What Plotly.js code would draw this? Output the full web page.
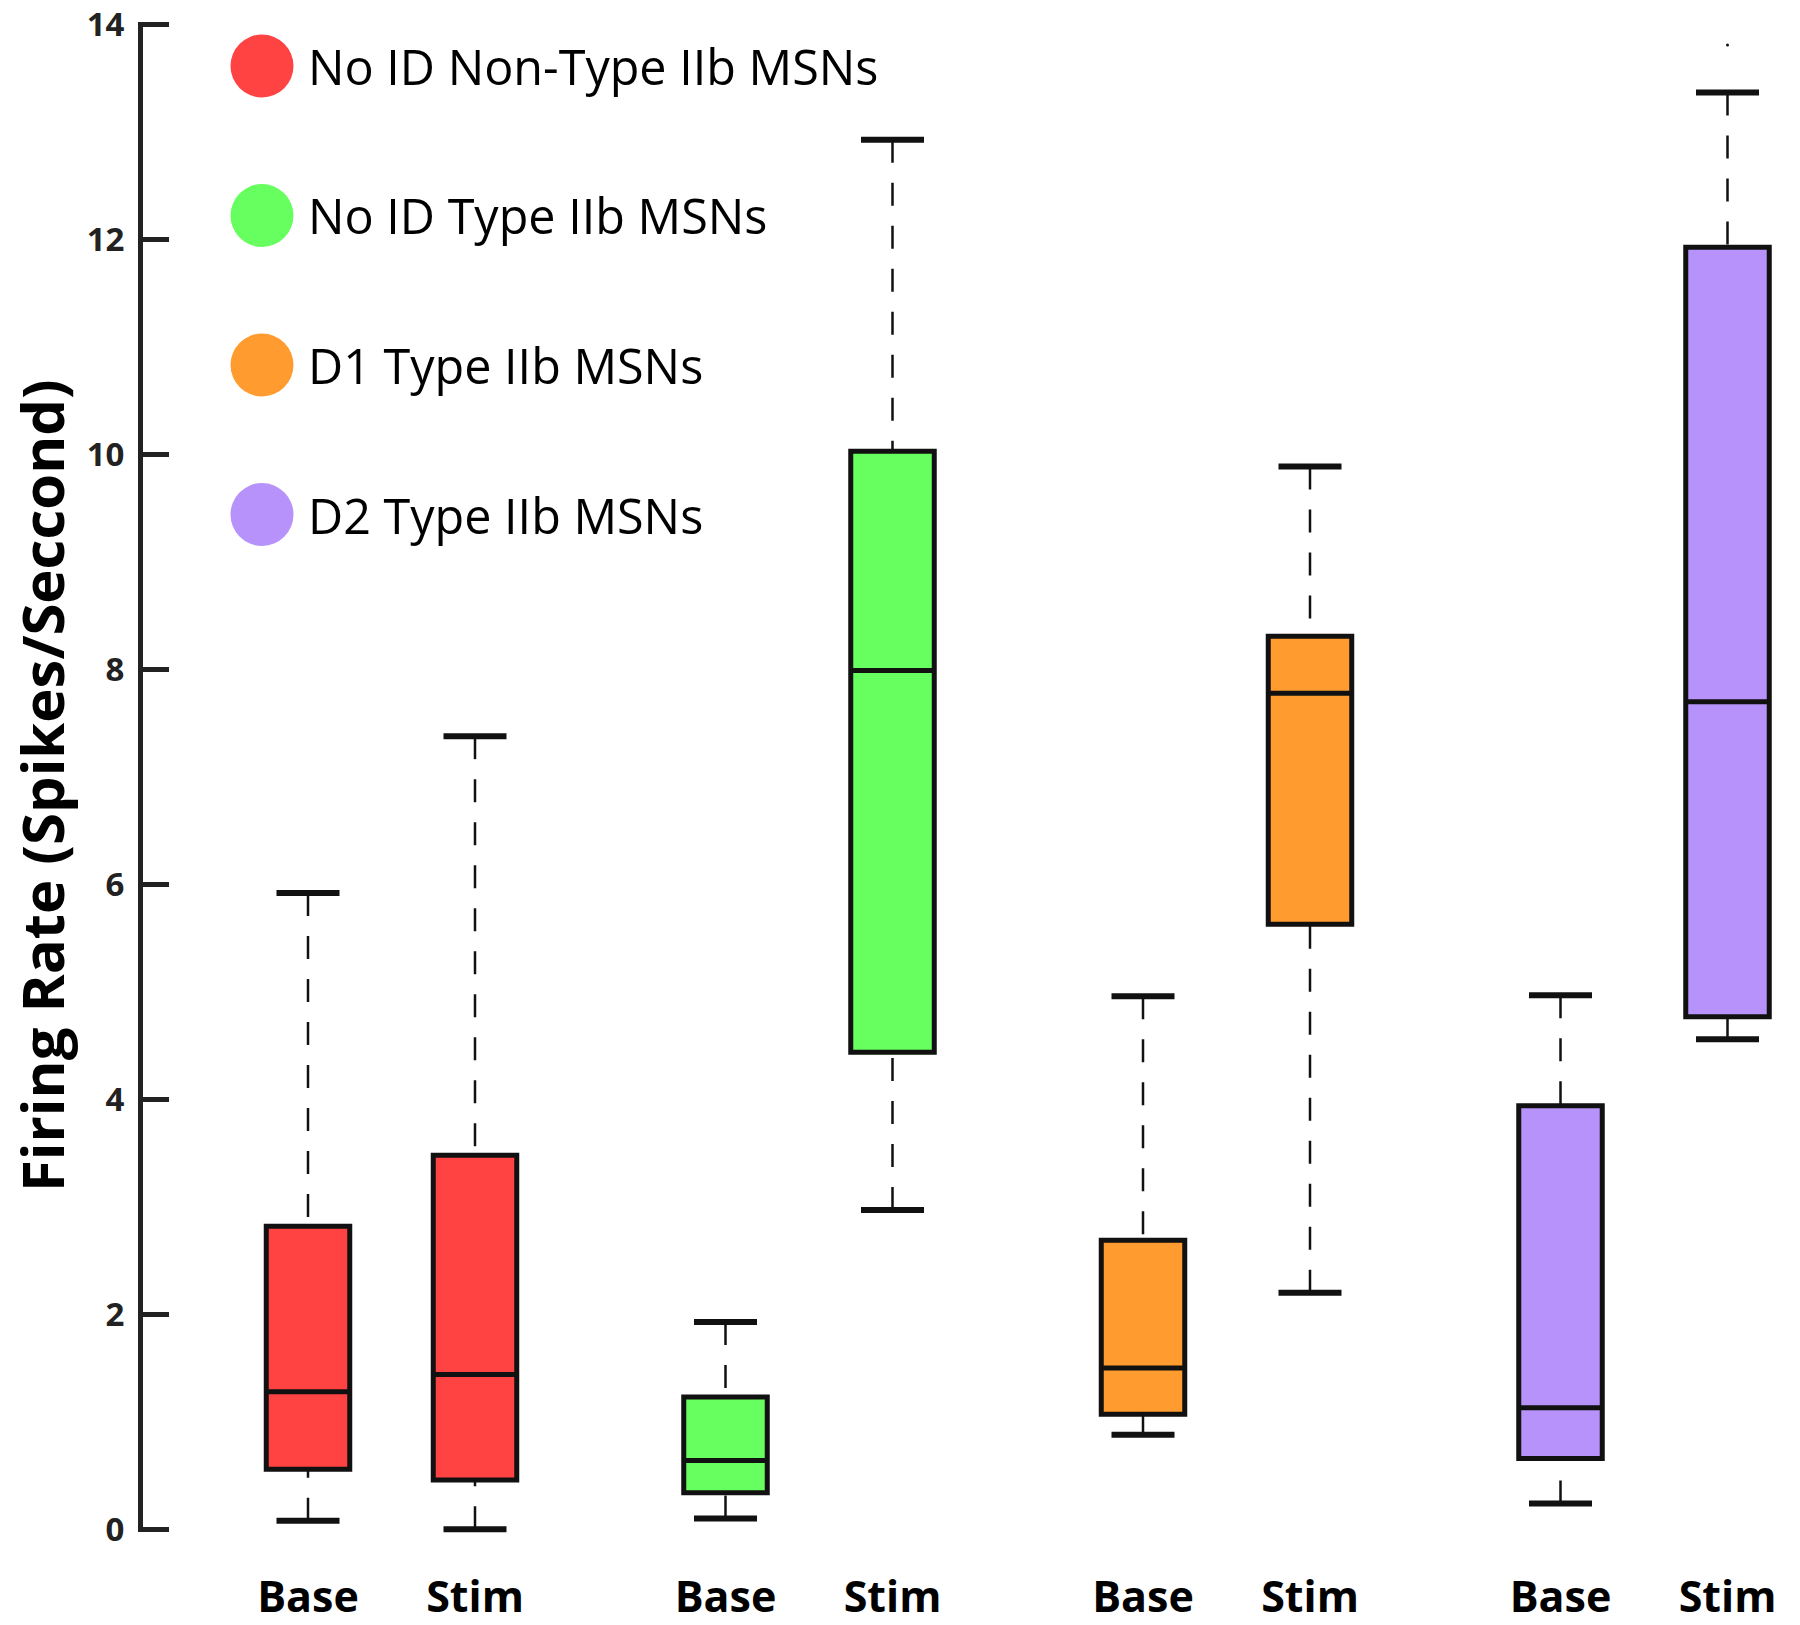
<!DOCTYPE html>
<html>
<head>
<meta charset="utf-8">
<script src="https://cdn.plot.ly/plotly-3.0.1.min.js"></script>
<style>html,body{margin:0;padding:0;background:#fff}</style>
</head>
<body>
<div id="chart" style="width:1800px;height:1625px"></div>
<script>
// ---- data ----
const groups = ["No ID Non-Type IIb MSNs", "No ID Type IIb MSNs", "D1 Type IIb MSNs", "D2 Type IIb MSNs"];
const conditions = ["Base", "Stim"];
// order: group0 Base, group0 Stim, group1 Base, group1 Stim, ...
const lowerWhisker = [0.08, 0.00, 0.10, 2.97, 0.88, 2.20, 0.24, 4.56];
const q1Values     = [0.56, 0.46, 0.34, 4.44, 1.07, 5.63, 0.66, 4.77];
const medianValues = [1.28, 1.44, 0.64, 7.99, 1.50, 7.78, 1.13, 7.70];
const q3Values     = [2.82, 3.48, 1.23, 10.03, 2.69, 8.31, 3.94, 11.93];
const upperWhisker = [5.92, 7.38, 1.93, 12.93, 4.96, 9.89, 4.97, 13.37];
const outlierIndex = [7];
const outlierValue = [13.81];
const yTicks = [0, 2, 4, 6, 8, 10, 12, 14];
const yTitle = "Firing Rate (Spikes/Seccond)";

// ---- style ----
const colors = ["#FF4343", "#66FF5F", "#FF9B2F", "#B692FA"];
const ink = "#111111";
const W = 1800, H = 1625;
const M = {l: 143, r: 0, t: 22, b: 93};
const groupGap = 2.5;
const pos = (g, c) => g * groupGap + c;
const idx = (g, c) => g * conditions.length + c;

const traces = [];
groups.forEach((name, g) => {
  const xs = conditions.map((_, c) => pos(g, c));
  const ii = conditions.map((_, c) => idx(g, c));
  traces.push({
    type: "box", name: name, x: xs,
    q1: ii.map(i => q1Values[i]),
    median: ii.map(i => medianValues[i]),
    q3: ii.map(i => q3Values[i]),
    lowerfence: ii.map(i => q1Values[i]),
    upperfence: ii.map(i => q3Values[i]),
    width: 0.5, whiskerwidth: 0, boxpoints: false,
    fillcolor: colors[g], line: {color: ink, width: 5},
    showlegend: false, hoverinfo: "y"
  });
});

// dashed whiskers
const wx = [], wy = [];
const cx = [], cy = [];
groups.forEach((_, g) => conditions.forEach((_, c) => {
  const i = idx(g, c), p = pos(g, c);
  wx.push(p, p, null, p, p, null);
  wy.push(upperWhisker[i], q3Values[i], null, lowerWhisker[i], q1Values[i], null);
  cx.push(p, p);
  cy.push(upperWhisker[i], lowerWhisker[i]);
}));
traces.push({
  type: "scatter", mode: "lines", x: wx, y: wy, connectgaps: false,
  line: {color: ink, width: 2.5, dash: "23px,20px"},
  showlegend: false, hoverinfo: "skip", cliponaxis: false
});
traces.push({
  type: "scatter", mode: "markers", x: cx, y: cy,
  marker: {symbol: "line-ew", size: 45, color: ink, line: {color: ink, width: 6}},
  showlegend: false, hoverinfo: "y", cliponaxis: false
});
traces.push({
  type: "scatter", mode: "markers",
  x: outlierIndex.map(i => pos(Math.floor(i / conditions.length), i % conditions.length)),
  y: outlierValue,
  marker: {size: 3, color: ink},
  showlegend: false, hoverinfo: "y", cliponaxis: false
});

// x range from pixel layout
const unitPx = 167, firstPx = 308;
const plotW = W - M.l - M.r, plotH = H - M.t - M.b;
const xRange = [(M.l - firstPx) / unitPx, (W - M.r - firstPx) / unitPx];
const px2paperX = px => (px - M.l) / plotW;
const px2paperY = py => (H - M.b - py) / plotH;

// legend drawn with shapes + annotations
const legendX = 262, legendTextX = 306, legendY0 = 66, legendStep = 149.5, legendR = 31.5;
const shapes = [], annotations = [];
groups.forEach((name, g) => {
  const yc = px2paperY(legendY0 + g * legendStep);
  shapes.push({
    type: "circle", xref: "paper", yref: "paper",
    xsizemode: "pixel", ysizemode: "pixel",
    xanchor: px2paperX(legendX), yanchor: yc,
    x0: -legendR, x1: legendR, y0: -legendR, y1: legendR,
    fillcolor: colors[g], line: {width: 0}
  });
  annotations.push({
    xref: "paper", yref: "paper", x: px2paperX(legendTextX), y: yc,
    xanchor: "left", yanchor: "middle", showarrow: false, text: name,
    font: {family: "Open Sans", size: 48.5, color: "#000"}
  });
});
// y-axis title
annotations.push({
  xref: "paper", yref: "paper", x: px2paperX(41), y: px2paperY(786),
  xanchor: "center", yanchor: "middle", showarrow: false, textangle: -90,
  text: yTitle, font: {family: "Open Sans", size: 58, weight: 700, color: "#000"}
});

const tickVals = [], tickText = [];
groups.forEach((_, g) => conditions.forEach((c, ci) => { tickVals.push(pos(g, ci)); tickText.push(c); }));

// small padding so the end ticks (0 and 14) are not clipped by plotly
const yPad = 0.025;

const layout = {
  width: W, height: H,
  margin: M,
  paper_bgcolor: "#fff", plot_bgcolor: "#fff",
  showlegend: false,
  xaxis: {
    range: xRange, showgrid: false, zeroline: false, showline: false,
    tickvals: tickVals, ticktext: tickText, ticks: "",
    ticklabelstandoff: 36, ticklabeloverflow: "allow",
    tickfont: {family: "Open Sans", size: 43, weight: 700, color: "#000"}
  },
  yaxis: {
    range: [0 - yPad, 14 + yPad], tickvals: yTicks, showgrid: false, zeroline: false,
    showline: true, linecolor: "#222", linewidth: 5,
    ticks: "inside", ticklen: 26, tickwidth: 5, tickcolor: "#222",
    ticklabelstandoff: 7, ticklabeloverflow: "allow",
    tickfont: {family: "Open Sans", size: 33, weight: 700, color: "#222"}
  },
  shapes: shapes,
  annotations: annotations
};

Plotly.newPlot("chart", traces, layout, {staticPlot: true});
</script>
</body>
</html>
